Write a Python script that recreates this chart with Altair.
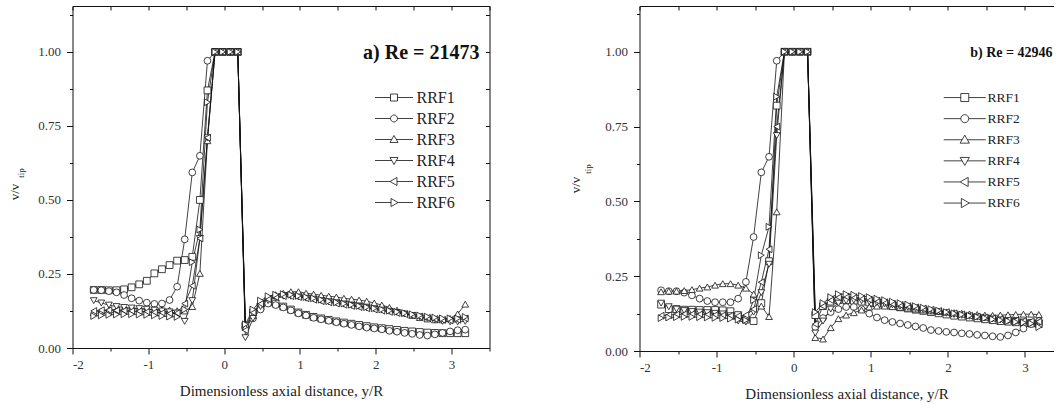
import altair as alt
import pandas as pd

SERIES = ["RRF1", "RRF2", "RRF3", "RRF4", "RRF5", "RRF6"]

X_LEFT = [-1.72, -1.62, -1.52, -1.42, -1.32, -1.22, -1.12, -1.02, -0.92, -0.82,
          -0.72, -0.62, -0.52, -0.42, -0.32, -0.22]
X_PEAK = [-0.12, -0.02, 0.08, 0.18]
X_RIGHT = [0.28, 0.38, 0.48, 0.58, 0.68, 0.78, 0.88, 0.98, 1.08, 1.18,
           1.28, 1.38, 1.48, 1.58, 1.68, 1.78, 1.88, 1.98, 2.08, 2.18,
           2.28, 2.38, 2.48, 2.58, 2.68, 2.78, 2.88, 2.98, 3.08, 3.18]
PEAK_Y = [1.0, 1.0, 1.0, 1.0]

# ---- panel a) Re = 21473 ----
A_LEFT = {
    "RRF1": [0.196, 0.196, 0.195, 0.195, 0.198, 0.205, 0.215, 0.227, 0.252, 0.266, 0.280, 0.295, 0.297, 0.308, 0.500, 0.870],
    "RRF2": [0.196, 0.195, 0.192, 0.188, 0.179, 0.168, 0.160, 0.153, 0.149, 0.150, 0.162, 0.207, 0.367, 0.593, 0.649, 0.970],
    "RRF3": [0.120, 0.125, 0.128, 0.130, 0.132, 0.132, 0.132, 0.131, 0.130, 0.130, 0.128, 0.126, 0.125, 0.140, 0.252, 0.700],
    "RRF4": [0.160, 0.152, 0.145, 0.140, 0.137, 0.135, 0.133, 0.131, 0.128, 0.125, 0.122, 0.118, 0.090, 0.160, 0.370, 0.710],
    "RRF5": [0.125, 0.128, 0.128, 0.127, 0.126, 0.125, 0.124, 0.122, 0.120, 0.118, 0.116, 0.118, 0.150, 0.210, 0.370, 0.710],
    "RRF6": [0.108, 0.110, 0.112, 0.113, 0.114, 0.114, 0.113, 0.112, 0.110, 0.108, 0.106, 0.105, 0.130, 0.290, 0.400, 0.830],
}
A_RIGHT = {
    "RRF1": [0.075, 0.120, 0.140, 0.155, 0.150, 0.140, 0.130, 0.120, 0.112, 0.105, 0.100, 0.095, 0.090, 0.086, 0.082,
             0.078, 0.074, 0.070, 0.067, 0.064, 0.061, 0.058, 0.056, 0.054, 0.052, 0.051, 0.050, 0.050, 0.050, 0.050],
    "RRF2": [0.070, 0.100, 0.130, 0.150, 0.145, 0.137, 0.127, 0.117, 0.110, 0.102, 0.097, 0.092, 0.087, 0.082, 0.078,
             0.073, 0.069, 0.066, 0.063, 0.058, 0.055, 0.051, 0.048, 0.044, 0.042, 0.046, 0.051, 0.056, 0.060, 0.062],
    "RRF3": [0.070, 0.110, 0.150, 0.170, 0.180, 0.185, 0.190, 0.190, 0.185, 0.182, 0.178, 0.175, 0.172, 0.168, 0.165,
             0.162, 0.158, 0.152, 0.145, 0.137, 0.128, 0.118, 0.110, 0.103, 0.098, 0.095, 0.095, 0.100, 0.115, 0.148],
    "RRF4": [0.035, 0.100, 0.140, 0.160, 0.170, 0.175, 0.175, 0.172, 0.168, 0.165, 0.160, 0.156, 0.152, 0.148, 0.144,
             0.140, 0.136, 0.132, 0.128, 0.124, 0.120, 0.115, 0.110, 0.105, 0.100, 0.095, 0.090, 0.088, 0.088, 0.090],
    "RRF5": [0.060, 0.120, 0.150, 0.165, 0.172, 0.175, 0.175, 0.172, 0.168, 0.163, 0.158, 0.154, 0.150, 0.146, 0.142,
             0.138, 0.134, 0.130, 0.126, 0.122, 0.118, 0.114, 0.110, 0.106, 0.102, 0.098, 0.095, 0.093, 0.095, 0.100],
    "RRF6": [0.080, 0.130, 0.160, 0.175, 0.180, 0.182, 0.180, 0.176, 0.172, 0.168, 0.163, 0.158, 0.154, 0.150, 0.146,
             0.142, 0.138, 0.134, 0.130, 0.126, 0.122, 0.118, 0.114, 0.110, 0.106, 0.103, 0.100, 0.100, 0.100, 0.105],
}

# ---- panel b) Re = 42946 ----
B_LEFT = {
    "RRF1": [0.155, 0.140, 0.140, 0.138, 0.138, 0.137, 0.137, 0.137, 0.136, 0.133, 0.120, 0.105, 0.100, 0.160, 0.300, 0.820],
    "RRF2": [0.203, 0.200, 0.200, 0.195, 0.186, 0.175, 0.167, 0.163, 0.163, 0.163, 0.175, 0.231, 0.381, 0.597, 0.649, 0.970],
    "RRF3": [0.198, 0.200, 0.200, 0.202, 0.205, 0.210, 0.214, 0.220, 0.225, 0.225, 0.220, 0.210, 0.190, 0.150, 0.115, 0.465],
    "RRF4": [0.160, 0.148, 0.140, 0.135, 0.132, 0.130, 0.128, 0.126, 0.124, 0.118, 0.100, 0.097, 0.130, 0.195, 0.290, 0.720],
    "RRF5": [0.118, 0.120, 0.122, 0.123, 0.123, 0.122, 0.121, 0.120, 0.119, 0.118, 0.117, 0.120, 0.140, 0.230, 0.340, 0.750],
    "RRF6": [0.110, 0.112, 0.113, 0.114, 0.114, 0.113, 0.112, 0.111, 0.110, 0.108, 0.105, 0.103, 0.170, 0.320, 0.415, 0.850],
}
B_RIGHT = {
    "RRF1": [0.120, 0.150, 0.165, 0.170, 0.170, 0.168, 0.165, 0.162, 0.158, 0.154, 0.150, 0.146, 0.142, 0.138, 0.134,
             0.130, 0.126, 0.122, 0.118, 0.115, 0.112, 0.109, 0.106, 0.103, 0.100, 0.098, 0.096, 0.094, 0.092, 0.090],
    "RRF2": [0.080, 0.110, 0.130, 0.140, 0.147, 0.147, 0.140, 0.125, 0.112, 0.103, 0.097, 0.092, 0.087, 0.082, 0.077,
             0.070, 0.067, 0.064, 0.062, 0.059, 0.057, 0.054, 0.052, 0.049, 0.047, 0.052, 0.062, 0.075, 0.090, 0.100],
    "RRF3": [0.045, 0.040, 0.078, 0.108, 0.120, 0.128, 0.137, 0.147, 0.150, 0.150, 0.148, 0.146, 0.143, 0.140, 0.137,
             0.134, 0.132, 0.130, 0.128, 0.126, 0.124, 0.122, 0.120, 0.119, 0.120, 0.121, 0.122, 0.123, 0.123, 0.122],
    "RRF4": [0.060, 0.100, 0.140, 0.160, 0.168, 0.170, 0.168, 0.165, 0.162, 0.158, 0.154, 0.150, 0.146, 0.142, 0.138,
             0.134, 0.130, 0.126, 0.122, 0.119, 0.116, 0.113, 0.110, 0.107, 0.104, 0.101, 0.099, 0.097, 0.095, 0.093],
    "RRF5": [0.090, 0.150, 0.170, 0.180, 0.182, 0.180, 0.176, 0.172, 0.168, 0.163, 0.158, 0.154, 0.150, 0.146, 0.142,
             0.138, 0.134, 0.130, 0.126, 0.122, 0.118, 0.115, 0.112, 0.109, 0.106, 0.104, 0.102, 0.100, 0.099, 0.098],
    "RRF6": [0.130, 0.160, 0.180, 0.190, 0.190, 0.188, 0.184, 0.180, 0.175, 0.170, 0.165, 0.160, 0.155, 0.150, 0.145,
             0.140, 0.135, 0.130, 0.126, 0.122, 0.118, 0.114, 0.110, 0.106, 0.103, 0.100, 0.097, 0.095, 0.092, 0.080],
}

X_MAJOR = [-2, -1, 0, 1, 2, 3]
X_MINOR = [-1.5, -0.5, 0.5, 1.5, 2.5, 3.5]
Y_MAJOR = [0.0, 0.25, 0.5, 0.75, 1.0]
Y_MINOR = [0.125, 0.375, 0.625, 0.875, 1.125]

SHAPES = ["square", "circle", "triangle-up", "triangle-down", "triangle-left", "triangle-right"]
FONT = "Liberation Serif"
INK = "#111111"


def legend_paths(e):
    return [
        f"M{-e},0H-1M1,0H{e}M-1,-1H1V1H-1Z",
        f"M{-e},0H-1M1,0H{e}M1,0A1,1,0,1,1,-1,0A1,1,0,1,1,1,0Z",
        f"M{-e},0H-0.65M0.65,0H{e}M0,-1.15L1.15,0.85H-1.15Z",
        f"M{-e},0H-0.65M0.65,0H{e}M0,1.15L1.15,-0.85H-1.15Z",
        f"M{-e},0H-1.15M0.85,0H{e}M-1.15,0L0.85,-1.15V1.15Z",
        f"M{-e},0H-0.85M1.15,0H{e}M1.15,0L-0.85,-1.15V1.15Z",
    ]


def frame(left, right):
    rows = []
    xs = X_LEFT + X_PEAK + X_RIGHT
    for s in SERIES:
        ys = left[s] + PEAK_Y + right[s]
        for x, y in zip(xs, ys):
            rows.append({"x": x, "y": y, "series": s})
    return pd.DataFrame(rows)


def panel(df, width, height, xmax, ymax, label, label_size, label_dx, leg, ytitle, right_frame):
    xs = alt.Scale(domain=[-2, xmax], nice=False, zero=False)
    ys = alt.Scale(domain=[0, ymax], nice=False, zero=False)
    base = alt.Chart(df)

    lines = base.mark_line(color=INK, strokeWidth=0.8).encode(
        x=alt.X("x:Q", scale=xs, axis=alt.Axis(
            orient="bottom", values=X_MAJOR, labelExpr="'' + datum.value", tickSize=6, labelPadding=4,
            title="Dimensionless axial distance, y/R", titlePadding=12)),
        y=alt.Y("y:Q", scale=ys, axis=alt.Axis(
            orient="left", values=Y_MAJOR, format=".2f", tickSize=6, labelPadding=6, title=None)),
        detail="series:N",
    )

    pts = base.mark_point(fill="white", stroke=INK, strokeWidth=0.8, opacity=1, size=46).encode(
        x=alt.X("x:Q", scale=xs, axis=alt.Axis(
            orient="bottom", values=X_MINOR, labels=False, domain=False, tickSize=3, title=None)),
        y=alt.Y("y:Q", scale=ys, axis=alt.Axis(
            orient="left", values=Y_MINOR, labels=False, domain=False, tickSize=3, title=None)),
        shape=alt.Shape("series:N", scale=alt.Scale(domain=SERIES, range=SHAPES), legend=None),
    )

    if right_frame:
        right_axis = alt.Axis(orient="right", values=Y_MAJOR + Y_MINOR, labels=False,
                              tickSize=alt.ExprRef(expr="-4"), title=None)
    else:
        right_axis = alt.Axis(orient="right", labels=False, ticks=False, domain=False, title=None)

    legend_layer = base.mark_point(opacity=0).encode(
        x=alt.X("x:Q", scale=xs, axis=alt.Axis(
            orient="top", values=X_MAJOR + X_MINOR, labels=False,
            tickSize=alt.ExprRef(expr="-4"), title=None)),
        y=alt.Y("y:Q", scale=ys, axis=right_axis),
        shape=alt.Shape("series:N", scale=alt.Scale(domain=SERIES, range=legend_paths(leg["extent"])),
                        legend=alt.Legend(
                            title=None, orient="none", legendX=leg["x"], legendY=leg["y"],
                            symbolSize=leg["size"], symbolFillColor="white", symbolStrokeColor=INK,
                            symbolStrokeWidth=0.8, symbolOpacity=1,
                            labelFont=FONT, labelFontSize=leg["font"], labelColor="#222222",
                            labelOffset=leg["offset"], rowPadding=leg["rowpad"], padding=0)),
    )

    t1 = alt.Chart(pd.DataFrame({"t": ["v/v"]})).mark_text(
        angle=270, font=FONT, fontSize=13, color="#222222").encode(
        text="t:N", x=alt.value(ytitle[0]), y=alt.value(ytitle[1]))
    t2 = alt.Chart(pd.DataFrame({"t": ["tip"]})).mark_text(
        angle=270, font=FONT, fontSize=9, color="#222222").encode(
        text="t:N", x=alt.value(ytitle[2]), y=alt.value(ytitle[3]))
    ann = alt.Chart(pd.DataFrame({"t": [label]})).mark_text(
        align="right", font=FONT, fontWeight="bold", fontSize=label_size, color=INK).encode(
        text="t:N", x=alt.value(width - label_dx), y=alt.value(47))

    return alt.layer(lines, pts, legend_layer, t1, t2, ann).resolve_scale(
        shape="independent").properties(width=width, height=height)


df_a = frame(A_LEFT, A_RIGHT)
df_b = frame(B_LEFT, B_RIGHT)

pa = panel(df_a, 417, 342, 3.5, 1.155, "a) Re = 21473", 20, 10,
           {"extent": 5.43, "x": 313.5, "y": 83.5, "size": 49, "font": 16, "offset": 14.5, "rowpad": 5.0},
           (-58, 186, -51.5, 167), True)
pb = panel(df_b, 414, 345, 3.37, 1.153, "b) Re = 42946", 14, 1,
           {"extent": 5.25, "x": 318.5, "y": 84.8, "size": 64, "font": 13.5, "offset": 16, "rowpad": 6.1},
           (-64, 179, -52, 163), False)

chart = alt.hconcat(pa, pb, spacing=78).resolve_scale(shape="independent").properties(
    padding={"left": 7.5, "top": 5, "right": 0, "bottom": 0}, background="white"
).configure_view(stroke="transparent").configure_axis(
    grid=False, domainColor=INK, tickColor=INK, domainWidth=1, tickWidth=1,
    labelFont=FONT, labelFontSize=13, labelColor="#333333",
    titleFont=FONT, titleFontSize=15, titleFontWeight="normal", titleColor="#222222",
)

chart.save("out.html", embed_options={"renderer": "svg", "actions": False})
